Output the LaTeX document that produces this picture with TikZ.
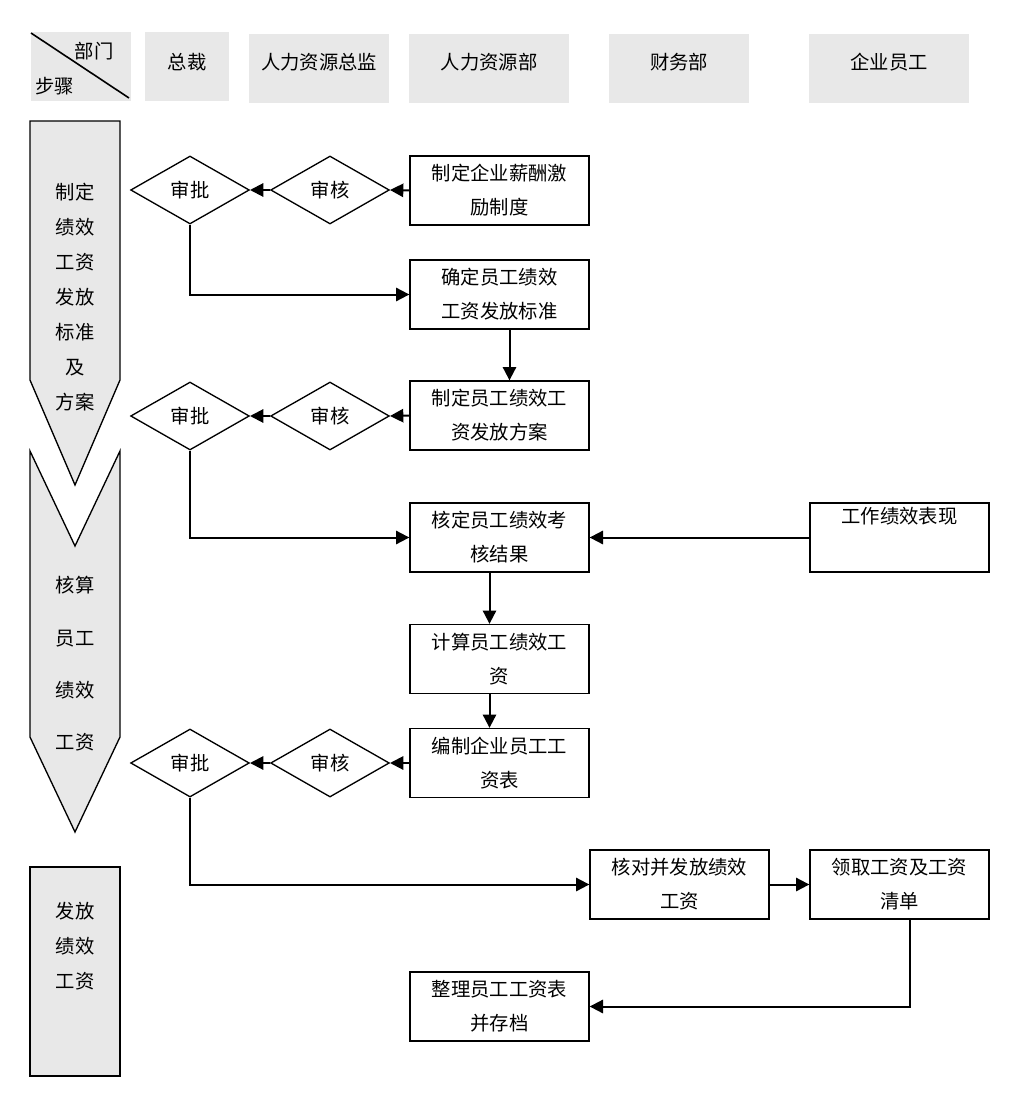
\documentclass[tikz,border=0pt]{standalone}
\usepackage{fontspec}
\setmainfont{Noto Sans CJK SC}
\usetikzlibrary{shapes.geometric,arrows.meta}
\definecolor{hdr}{RGB}{232,232,232}
\tikzset{
  txt/.style={font=\fontsize{14.5pt}{25.5pt}\selectfont, align=center, inner sep=0pt},
  hdrbox/.style={txt, fill=hdr, draw=none},
  procbox/.style={txt, draw=black, line width=1pt, fill=white, minimum width=134.25pt, minimum height=51.75pt},
  dia/.style={txt, diamond, draw=black, line width=1pt, fill=white, aspect=1.76, minimum width=89pt, minimum height=51pt},
  arr/.style={line width=1.5pt, -{Triangle[length=10pt,width=10pt]}},
  lane/.style={draw=black, line width=1pt, fill=hdr}
}
\begin{document}
\begin{tikzpicture}[x=0.75pt,y=-0.75pt]
\path[use as bounding box] (0,0) rectangle (1026,1106);

% header row
\node[hdrbox, minimum width=75pt, minimum height=51.75pt] (h0) at (81,66.5) {};
\draw[line width=1.2pt] (31,33) -- (129,98);
\node[txt] (h0a) at (94,51) {部门};
\node[txt] (h0b) at (55,86) {步骤};
\node[hdrbox, minimum width=63pt, minimum height=51.75pt] (h1) at (187,66.5) {};
\node[txt] (h1t) at (187,62) {总裁};
\node[hdrbox, minimum width=105pt, minimum height=51.75pt] (h2) at (319,68.5) {};
\node[txt] (h2t) at (319,62) {人力资源总监};
\node[hdrbox, minimum width=120pt, minimum height=51.75pt] (h3) at (489,68.5) {};
\node[txt] (h3t) at (489,62) {人力资源部};
\node[hdrbox, minimum width=105pt, minimum height=51.75pt] (h4) at (679,68.5) {};
\node[txt] (h4t) at (679,62) {财务部};
\node[hdrbox, minimum width=120pt, minimum height=51.75pt] (h5) at (889,68.5) {};
\node[txt] (h5t) at (889,62) {企业员工};

% left phase arrows
\draw[lane] (30,121) -- (120,121) -- (120,380) -- (75,485) -- (30,380) -- cycle;
\node[txt, font=\fontsize{14.5pt}{26.2pt}\selectfont] (p1) at (75,297) {制定\\绩效\\工资\\发放\\标准\\及\\方案};
\draw[lane] (30,451) -- (75,546) -- (120,451) -- (120,737) -- (75,832) -- (30,737) -- cycle;
\node[txt, font=\fontsize{14.5pt}{39.2pt}\selectfont] (p2) at (75,664) {核算\\员工\\绩效\\工资};
\draw[lane] (30,867) rectangle (120,1076);
\node[txt, font=\fontsize{14.5pt}{26.25pt}\selectfont] (p3) at (75,946) {发放\\绩效\\工资};

% process boxes
\node[procbox] (b1) at (499.5,190.5) {制定企业薪酬激\\励制度};
\node[procbox] (b2) at (499.5,294.5) {确定员工绩效\\工资发放标准};
\node[procbox] (b3) at (499.5,415.5) {制定员工绩效工\\资发放方案};
\node[procbox] (b4) at (499.5,537.5) {核定员工绩效考\\核结果};
\node[procbox] (b5) at (899.5,537.5) {工作绩效表现\\\strut};
\node[procbox] (b6) at (499.5,659) {计算员工绩效工\\资};
\node[procbox] (b7) at (499.5,763) {编制企业员工工\\资表};
\node[procbox] (b8) at (679.5,884.5) {核对并发放绩效\\工资};
\node[procbox] (b9) at (899.5,884.5) {领取工资及工资\\清单};
\node[procbox] (b10) at (499.5,1006.5) {整理员工工资表\\并存档};

% diamonds
\node[dia] (sh1) at (330,190) {审核};
\node[dia] (sp1) at (190,190) {审批};
\node[dia] (sh2) at (330,416) {审核};
\node[dia] (sp2) at (190,416) {审批};
\node[dia] (sh3) at (330,763) {审核};
\node[dia] (sp3) at (190,763) {审批};

% connectors
\draw[arr] (b1.west) -- (sh1.east);
\draw[arr] (sh1.west) -- (sp1.east);
\draw[arr] (sp1.south) |- (b2.west);
\draw[arr] ([xshift=7.5pt]b2.south) -- ([xshift=7.5pt]b3.north);
\draw[arr] (b3.west) -- (sh2.east);
\draw[arr] (sh2.west) -- (sp2.east);
\draw[arr] (sp2.south) |- (b4.west);
\draw[arr] (b5.west) -- (b4.east);
\draw[arr] ([xshift=-7.5pt]b4.south) -- ([xshift=-7.5pt]b6.north);
\draw[arr] ([xshift=-7.5pt]b6.south) -- ([xshift=-7.5pt]b7.north);
\draw[arr] (b7.west) -- (sh3.east);
\draw[arr] (sh3.west) -- (sp3.east);
\draw[arr] (sp3.south) |- (b8.west);
\draw[arr] (b8.east) -- (b9.west);
\draw[arr] ([xshift=7.5pt]b9.south) |- (b10.east);
\end{tikzpicture}
\end{document}
